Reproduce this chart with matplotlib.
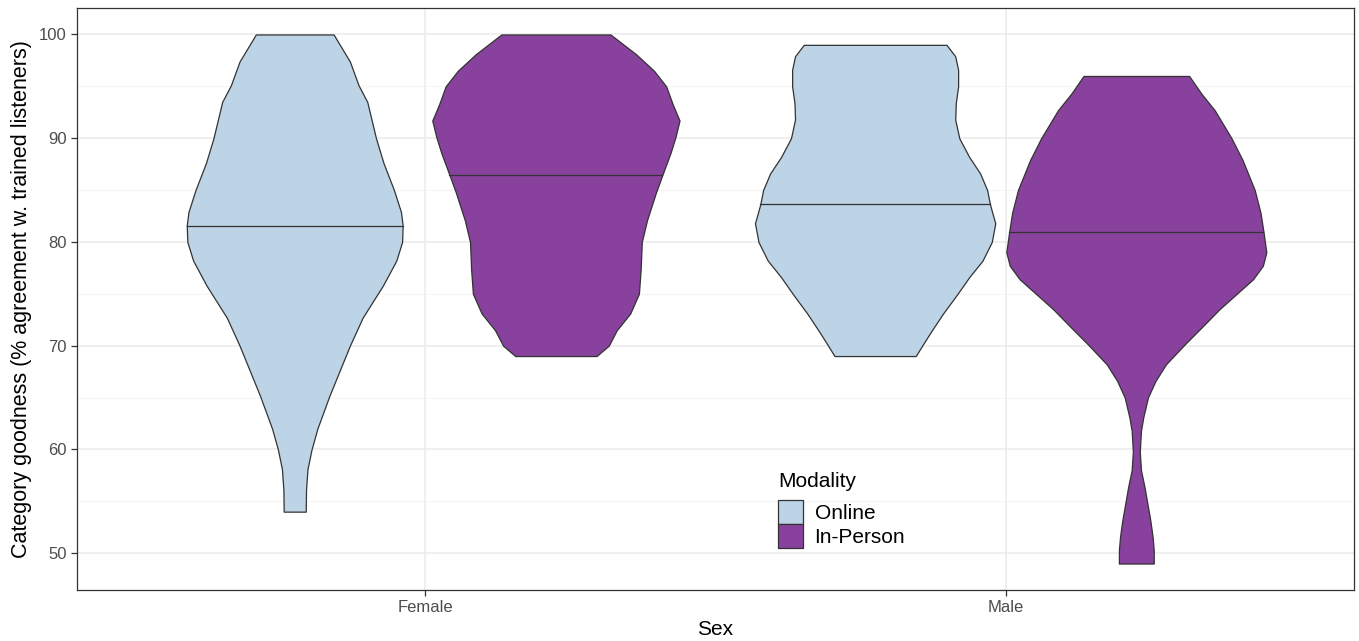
import matplotlib.pyplot as plt
from matplotlib.patches import Patch
import numpy as np

plt.rcParams['font.family'] = ['Liberation Sans', 'DejaVu Sans']

# Categorias
sexos = ["Female", "Male"]
modalidades = ["Online", "In-Person"]
cores = ["#BDD3E6", "#88419D"]

# Perfis dos violinos: valor y e meia-largura (unidades do eixo x)
fem_online_y = [100, 97.4, 95.1, 93.5, 90, 87.6, 85, 82.9, 81.6, 80, 78.2, 75.8, 72.7, 70, 65.2, 62, 60, 58.1, 56.1, 54]
fem_online_w = [0.067, 0.095, 0.110, 0.125, 0.140, 0.153, 0.171, 0.183, 0.186, 0.185, 0.175, 0.152, 0.117, 0.095, 0.060, 0.039, 0.029, 0.022, 0.0195, 0.019]

fem_pessoa_y = [100, 98.1, 96.5, 95, 93.3, 91.7, 90.1, 88.5, 86.4, 84.7, 82.1, 80, 77.3, 75, 73.1, 71.5, 70, 69]
fem_pessoa_w = [0.094, 0.138, 0.169, 0.190, 0.201, 0.213, 0.206, 0.197, 0.183, 0.172, 0.157, 0.148, 0.146, 0.143, 0.128, 0.105, 0.091, 0.070]

mas_online_y = [99, 97.9, 96.6, 95, 93.4, 91.8, 90, 88.2, 86.6, 85, 83.6, 81.8, 80, 78.2, 76.6, 75, 73.1, 71.5, 70, 69]
mas_online_w = [0.123, 0.138, 0.143, 0.143, 0.139, 0.138, 0.145, 0.162, 0.181, 0.193, 0.198, 0.207, 0.201, 0.185, 0.162, 0.142, 0.117, 0.098, 0.081, 0.070]

mas_pessoa_y = [96, 94.3, 92.7, 90, 87.9, 85, 82.8, 81, 79, 77.7, 76.4, 75.1, 73.5, 71.9, 70.1, 68.2, 66.6, 65, 63.1, 61.8, 59.8, 58, 56.4, 54.8, 53.2, 51.6, 50.3, 49]
mas_pessoa_w = [0.091, 0.112, 0.135, 0.164, 0.183, 0.204, 0.214, 0.219, 0.224, 0.218, 0.201, 0.175, 0.143, 0.115, 0.083, 0.051, 0.033, 0.020, 0.012, 0.008, 0.006, 0.008, 0.014, 0.019, 0.024, 0.028, 0.030, 0.030]

# Medianas
mediana_online = [81.5, 83.65]
mediana_pessoa = [86.45, 80.96]

perfis = {
    ("Female", "Online"): (fem_online_y, fem_online_w),
    ("Female", "In-Person"): (fem_pessoa_y, fem_pessoa_w),
    ("Male", "Online"): (mas_online_y, mas_online_w),
    ("Male", "In-Person"): (mas_pessoa_y, mas_pessoa_w),
}
medianas = {
    ("Female", "Online"): mediana_online[0],
    ("Male", "Online"): mediana_online[1],
    ("Female", "In-Person"): mediana_pessoa[0],
    ("Male", "In-Person"): mediana_pessoa[1],
}

fig = plt.figure(figsize=(13.59, 6.41), dpi=100)
ax = fig.add_axes([0.0567, 0.0796, 0.9396, 0.9079])

# Grade (estilo theme_bw)
for v in [55, 65, 75, 85, 95]:
    ax.axhline(v, color="#F2F2F2", lw=0.6, zorder=0)
ax.grid(True, color="#EBEBEB", lw=1.1, zorder=0)
ax.set_axisbelow(True)

desloc = [-0.225, 0.225]
for i, s in enumerate(sexos):
    for j, m in enumerate(modalidades):
        c = i + 1 + desloc[j]
        y, w = perfis[(s, m)]
        y = np.array(y)
        w = np.array(w)
        ax.fill_betweenx(y, c - w, c + w, facecolor=cores[j], edgecolor="#333333", lw=0.9, zorder=2)
        med = medianas[(s, m)]
        ordem = np.argsort(y)
        wm = np.interp(med, y[ordem], w[ordem])
        ax.plot([c - wm, c + wm], [med, med], color="#333333", lw=0.9, zorder=3)

ax.set_xlim(0.4, 2.6)
ax.set_ylim(46.45, 102.55)
ax.set_xticks([1, 2])
ax.set_xticklabels(sexos)
ax.set_yticks([50, 60, 70, 80, 90, 100])
ax.tick_params(colors="#333333", labelcolor="#4D4D4D", labelsize=12, length=4, width=0.9)
for sp in ax.spines.values():
    sp.set_color("#333333")
    sp.set_linewidth(0.9)

ax.set_xlabel("Sex", fontsize=15, labelpad=3)
ax.set_ylabel("Category goodness (% agreement w. trained listeners)", fontsize=15.5, labelpad=5)

# Legenda
handles = [Patch(facecolor=cores[k], edgecolor="#333333", lw=0.9, label=modalidades[k]) for k in range(2)]
leg = ax.legend(handles=handles, title="Modality", loc="upper left", bbox_to_anchor=(0.549, 0.202),
                frameon=False, fontsize=15, title_fontsize=15, alignment="left",
                handlelength=1.2, handleheight=1.4, labelspacing=0.0, handletextpad=0.55,
                borderpad=0, borderaxespad=0)
leg._legend_box.sep = 6  # espaço entre título e chaves

plt.savefig("out.png", dpi=100)
